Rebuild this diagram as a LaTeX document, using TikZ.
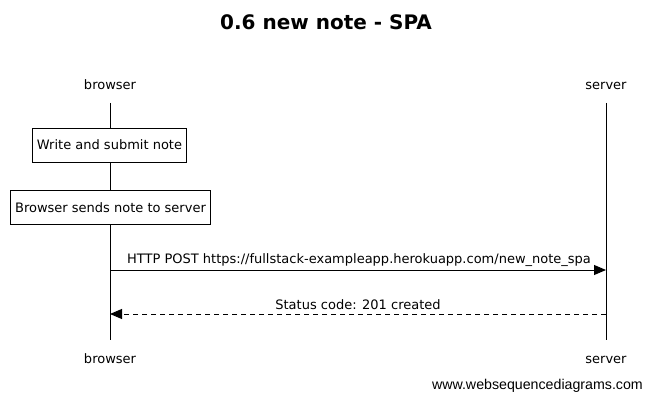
\documentclass[tikz,border=0pt]{standalone}
\usepackage{fontspec}
\setmainfont{DejaVu Sans}
\newfontfamily\wmfont{Liberation Sans}
\usetikzlibrary{arrows.meta}
\begin{document}
\begin{tikzpicture}[x=1pt,y=-1pt,
  actor/.style={font=\fontsize{13}{15}\selectfont, inner sep=0pt, anchor=base},
  notebox/.style={draw, line width=0.8pt, font=\fontsize{13}{15}\selectfont, minimum height=34pt, inner sep=4.5pt},
  life/.style={line width=0.9pt},
  msg/.style={line width=0.9pt, -{Triangle[length=12pt,width=10pt]}},
  ret/.style={msg, dash pattern=on 5pt off 4pt},
  mlabel/.style={font=\fontsize{13}{15}\selectfont, inner sep=0pt}
]
\useasboundingbox (0,0) rectangle (652,401);
\node[font=\bfseries\fontsize{20}{22}\selectfont] (title) at (326,22.5) {0.6 new note - SPA};
\node[actor] (bt) at (110,89) {browser};
\node[actor] (st) at (606,89) {server};
\node[actor] (bb) at (110,363.5) {browser};
\node[actor] (sb) at (606,363.5) {server};
\coordinate (btl) at (110,103);
\coordinate (bbl) at (110,340);
\coordinate (stl) at (606,103);
\coordinate (sbl) at (606,340);
\draw[life] (btl) -- (bbl);
\draw[life] (stl) -- (sbl);
\node[notebox, fill=white] (n1) at (109.5,145) {Write and submit note};
\node[notebox, fill=white] (n2) at (110.5,207.5) {Browser sends note to server};
\coordinate (m1a) at (110,270);
\coordinate (m1b) at (606,270);
\draw[msg] (m1a) -- (m1b);
\node[mlabel] (l1) at (359,260.5) {HTTP POST https://fullstack-exampleapp.herokuapp.com/new\_note\_spa};
\coordinate (m2a) at (606,314);
\coordinate (m2b) at (110,314);
\draw[ret] (m2a) -- (m2b);
\node[mlabel] (l2) at (358,304.5) {Status code: 201 created};
\node[font=\wmfont\fontsize{14.2}{16}\selectfont, anchor=east, inner sep=0pt] (wm) at (643,386) {www.websequencediagrams.com};
\end{tikzpicture}
\end{document}
